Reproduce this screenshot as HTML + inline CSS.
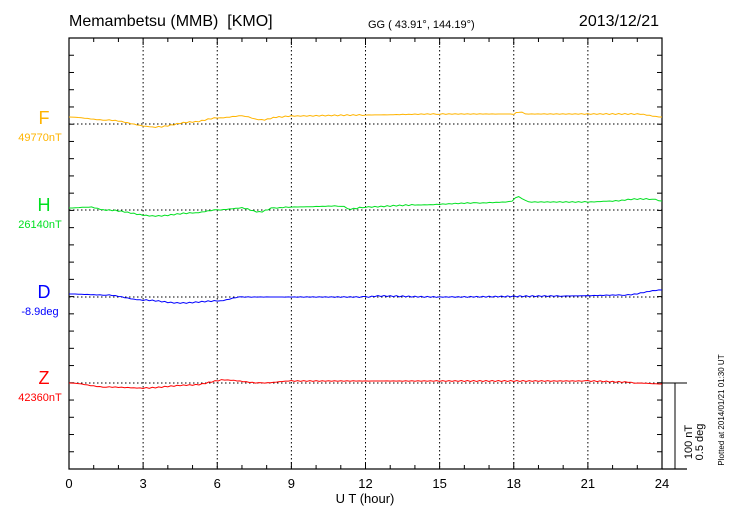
<!DOCTYPE html>
<html><head><meta charset="utf-8"><style>
html,body{margin:0;padding:0;background:#fff;width:730px;height:520px;overflow:hidden}
svg{display:block;font-family:"Liberation Sans",sans-serif}
</style></head><body>
<svg id="s" width="730" height="520" xmlns="http://www.w3.org/2000/svg">
<text x="69" y="26" font-size="16" fill="#000" style="white-space:pre">Memambetsu (MMB)  [KMO]</text>
<text x="368" y="28" font-size="11" fill="#000">GG ( 43.91°, 144.19°)</text>
<text x="659" y="26" font-size="16" fill="#000" text-anchor="end">2013/12/21</text>
<text x="44" y="124" font-size="18" fill="#ffb400" text-anchor="middle">F</text>
<text x="40" y="141" font-size="11" fill="#ffb400" text-anchor="middle">49770nT</text>
<text x="44" y="211" font-size="18" fill="#00e020" text-anchor="middle">H</text>
<text x="40" y="228" font-size="11" fill="#00e020" text-anchor="middle">26140nT</text>
<text x="44" y="298" font-size="18" fill="#0000ff" text-anchor="middle">D</text>
<text x="40" y="315" font-size="11" fill="#0000ff" text-anchor="middle">-8.9deg</text>
<text x="44" y="384" font-size="18" fill="#ff0000" text-anchor="middle">Z</text>
<text x="40" y="401" font-size="11" fill="#ff0000" text-anchor="middle">42360nT</text>
<text x="365" y="503" font-size="13" text-anchor="middle">U T (hour)</text>
<text transform="translate(692,442) rotate(-90)" font-size="11" text-anchor="middle">100 nT</text>
<text transform="translate(703,442) rotate(-90)" font-size="11" text-anchor="middle">0.5 deg</text>
<text transform="translate(724,410) rotate(-90)" font-size="8" text-anchor="middle">Plotted at 2014/01/21 01:30 UT</text>
<g id="g"></g>
</svg>
<script>
const g=document.getElementById('g');const NS='http://www.w3.org/2000/svg';
function el(t,a){const e=document.createElementNS(NS,t);for(const k in a)e.setAttribute(k,a[k]);g.appendChild(e);return e;}
const L=69,R=662,T=38,B=469;const X=h=>L+h*(R-L)/24;
for(let h=3;h<24;h+=3)el('line',{x1:X(h),y1:T,x2:X(h),y2:B,stroke:'#000','stroke-width':1,'stroke-dasharray':'1.5,2.5'});
[124,210,297,383].forEach(y=>el('line',{x1:L,y1:y,x2:R,y2:y,stroke:'#000','stroke-width':1,'stroke-dasharray':'1.5,2.5'}));
el('rect',{x:L,y:T,width:R-L,height:B-T,fill:'none',stroke:'#000','stroke-width':1.2});
el('line',{x1:R,y1:B,x2:687,y2:B,stroke:'#000','stroke-width':1.2});
el('line',{x1:R,y1:383,x2:687,y2:383,stroke:'#000','stroke-width':1});
el('line',{x1:675,y1:383,x2:675,y2:B,stroke:'#000','stroke-width':1});
for(let h=0;h<=24;h++){const l=h%3?4:7;el('line',{x1:X(h),y1:B,x2:X(h),y2:B-l,stroke:'#000'});el('line',{x1:X(h),y1:T,x2:X(h),y2:T+l,stroke:'#000'});
 if(h%3==0){const t=el('text',{x:X(h),y:488,'font-size':13,'text-anchor':'middle'});t.textContent=h;}}
for(let i=1;i<25;i++){const y=T+i*(B-T)/25;el('line',{x1:L,y1:y,x2:L+5,y2:y,stroke:'#000'});el('line',{x1:R,y1:y,x2:R-5,y2:y,stroke:'#000'});}
function series(pts,c){let d=[];for(let i=0;i<pts.length-1;i++){const[h0,y0]=pts[i],[h1,y1]=pts[i+1];const n=Math.max(1,Math.round((h1-h0)*8));for(let k=0;k<n;k++){const t=k/n;const s=(1-Math.cos(Math.PI*t))/2;let y=y0+(y1-y0)*s+(Math.sin(i*7+k*3.1)*0.5);d.push(X(h0+(h1-h0)*t).toFixed(1)+','+y.toFixed(1));}}
 const l=pts[pts.length-1];d.push(X(l[0])+','+l[1]);el('polyline',{points:d.join(' '),fill:'none',stroke:c,'stroke-width':1});}
series([[0,117],[1.5,120],[3.5,127],[5,122],[6,118],[7,116],[7.8,120],[8.5,117],[9,116],[12,115],[15,114],[18,114],[18.2,112],[18.6,114],[23,114],[24,117]],'#ffb400');
series([[0,208],[0.8,207],[1.5,210],[3.5,216],[5,213],[6,210],[7,208],[7.7,212],[8.3,208],[9,207],[11,206],[11.4,209],[12,207],[14,205],[16.5,203],[17.8,202],[18.2,197],[18.6,202],[21,202],[22,201],[23,199],[23.6,199],[24,201]],'#00e020');
series([[0,294],[1.5,295],[3,300],[4.5,303],[6,301],[7,297],[12,297],[12.5,296],[15,297],[20,296],[22.5,295],[24,290]],'#0000ff');
series([[0,383],[1.5,387],[3,388],[5,385],[6.3,380],[7.8,383],[9,381],[21,381],[22.5,382],[23,383],[24,384]],'#ff0000');
</script>
</body></html>
